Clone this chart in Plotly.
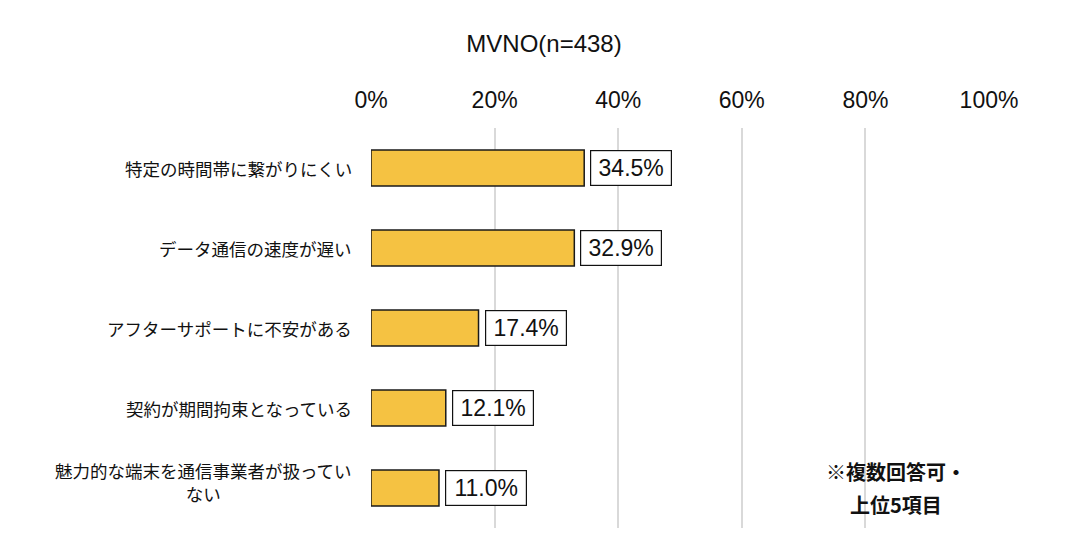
import plotly.graph_objects as go

categories = [
    "特定の時間帯に繋がりにくい",
    "データ通信の速度が遅い",
    "アフターサポートに不安がある",
    "契約が期間拘束となっている",
    "魅力的な端末を通信事業者が扱ってい<br>ない",
]
values = [34.5, 32.9, 17.4, 12.1, 11.0]
tick_vals = [0, 20, 40, 60, 80, 100]
tick_text = ["0%", "20%", "40%", "60%", "80%", "100%"]
title_text = "MVNO(n=438)"
note_lines = ["<b>※複数回答可・</b>", "<b>上位5項目</b>"]

FONT = "Liberation Sans, Arial, Noto Sans CJK JP, sans-serif"
JFONT = "Noto Sans CJK JP, Liberation Sans, sans-serif"

fig = go.Figure()
fig.add_trace(go.Bar(
    x=values,
    y=categories,
    orientation="h",
    marker=dict(color="#F5C242", line=dict(color="#1a1a1a", width=1.5)),
    width=0.45,
    hoverinfo="skip",
))

annotations = []
for i, (c, v) in enumerate(zip(categories, values)):
    annotations.append(dict(
        x=v, y=c, xref="x", yref="y",
        text=f"{v:.1f}%", showarrow=False,
        xanchor="left", yanchor="middle", xshift=6,
        width=72, align="center",
        font=dict(family=FONT, size=23, color="#111111"),
        bgcolor="white", bordercolor="#111111", borderwidth=1.2, borderpad=4,
    ))
    annotations.append(dict(
        x=0, y=c, xref="paper", yref="y",
        text=c, showarrow=False,
        xanchor="right", yanchor="middle", xshift=-17, align="center",
        yshift=6 if "<br>" in c else 0,
        font=dict(family=JFONT, size=17.5, color="#111111"),
    ))

for j, line in enumerate(note_lines):
    annotations.append(dict(
        x=0.85, y=categories[-1], xref="paper", yref="y",
        text=line, showarrow=False, xanchor="center", yanchor="middle",
        align="center", yshift=17 - 33 * j,
        font=dict(family=JFONT, size=20, color="#111111"),
    ))

fig.update_layout(
    width=1088, height=537,
    margin=dict(l=371, r=99, t=128, b=9),
    paper_bgcolor="white", plot_bgcolor="white",
    showlegend=False,
    title=dict(text=title_text, x=0.5, xref="container", xanchor="center",
               y=0.918, yref="container", yanchor="middle",
               font=dict(family=FONT, size=24, color="#111111")),
    xaxis=dict(
        range=[0, 100], side="top",
        tickvals=tick_vals, ticktext=tick_text,
        tickfont=dict(family=FONT, size=23, color="#111111"),
        ticklabelstandoff=14,
        showgrid=True, gridcolor="#d9d9d9", gridwidth=1.5,
        zeroline=False, showline=False, ticks="", ticklen=0,
        fixedrange=True,
    ),
    yaxis=dict(
        categoryorder="array", categoryarray=categories,
        autorange="reversed", showticklabels=False,
        showgrid=False, zeroline=False, showline=False,
        fixedrange=True,
    ),
    bargap=0.55,
    annotations=annotations,
)

fig.write_html("out.html")
